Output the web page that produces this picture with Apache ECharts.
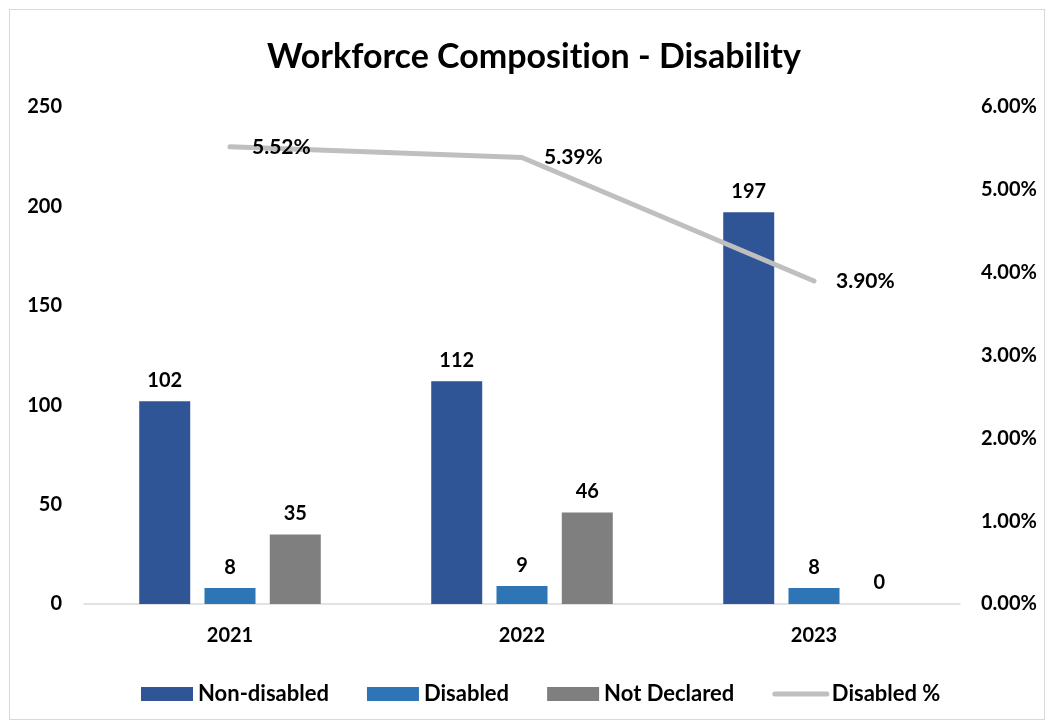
<!DOCTYPE html>
<html>
<head>
<meta charset="utf-8">
<script src="https://cdn.jsdelivr.net/npm/echarts@6/dist/echarts.min.js"></script>
<style>
  html, body { margin: 0; padding: 0; background: #fff; }
  #frame { position: absolute; left: 9px; top: 9px; width: 1036px; height: 711px; border: 1px solid #D9D9D9; box-sizing: border-box; }
  #chart { position: absolute; left: 0; top: 0; width: 1046px; height: 724px; }
</style>
</head>
<body>
<div id="frame"></div>
<div id="chart"></div>
<script>
// Headcount by year and disability status
const years = ['2021', '2022', '2023'];
const nonDisabled = [102, 112, 197];
const disabled = [8, 9, 8];
const notDeclared = [35, 46, 0];
const disabledPct = [5.52, 5.39, 3.90];

const FONT = 'Lato, "Open Sans", sans-serif';
// zero-width non-joiner keeps "ti" from collapsing into a ligature
const TITLE = 'Workforce Composit\u200Cion - Disability';
const labelStyle = { show: true, position: 'top', distance: 11, color: '#000', fontFamily: FONT, fontWeight: 'bold', fontSize: 20 };

const chart = echarts.init(document.getElementById('chart'), null, { renderer: 'canvas' });
chart.setOption({
  animation: false,
  backgroundColor: 'transparent',
  title: {
    text: TITLE,
    left: 529, top: 35, textAlign: 'center',
    textStyle: { fontFamily: FONT, fontWeight: 'bold', fontSize: 34, color: '#000' }
  },
  legend: {
    left: 136, top: 678, itemWidth: 52, itemHeight: 14, itemGap: 38,
    textStyle: { fontFamily: FONT, fontWeight: 'bold', fontSize: 22, color: '#000' },
    data: [
      { name: 'Non-disabled', icon: 'rect' },
      { name: 'Disabled', icon: 'rect' },
      { name: 'Not Declared', icon: 'rect' },
      { name: 'Disabled %', lineStyle: { width: 5, cap: 'round', color: '#BFBFBF' } }
    ]
  },
  grid: { left: 84, right: 86, top: 107, bottom: 120, containLabel: false },
  xAxis: {
    type: 'category', data: years,
    axisLine: { lineStyle: { color: '#D9D9D9', width: 1.5 } },
    axisTick: { show: false },
    axisLabel: { margin: 22, color: '#000', fontFamily: FONT, fontWeight: 'bold', fontSize: 20 }
  },
  yAxis: [
    {
      type: 'value', min: 0, max: 250, interval: 50,
      splitLine: { show: false }, axisLine: { show: false }, axisTick: { show: false },
      axisLabel: { margin: 22, color: '#000', fontFamily: FONT, fontWeight: 'bold', fontSize: 20 }
    },
    {
      type: 'value', min: 0, max: 6, interval: 1, position: 'right',
      splitLine: { show: false }, axisLine: { show: false }, axisTick: { show: false },
      axisLabel: { margin: 21, color: '#000', fontFamily: FONT, fontWeight: 'bold', fontSize: 20,
        formatter: v => v.toFixed(2) + '%' }
    }
  ],
  series: [
    { name: 'Non-disabled', type: 'bar', data: nonDisabled, barWidth: 51, barGap: '28%',
      itemStyle: { color: '#2F5597' }, label: labelStyle },
    { name: 'Disabled', type: 'bar', data: disabled, barWidth: 51, barGap: '28%',
      itemStyle: { color: '#2E75B6' }, label: labelStyle },
    { name: 'Not Declared', type: 'bar', data: notDeclared, barWidth: 51, barGap: '28%',
      itemStyle: { color: '#7F7F7F' }, label: labelStyle },
    { name: 'Disabled %', type: 'line', yAxisIndex: 1, data: disabledPct,
      symbol: 'circle', symbolSize: 2, showSymbol: true, z: 5,
      lineStyle: { color: '#BFBFBF', width: 5, cap: 'round', join: 'round' },
      itemStyle: { color: 'rgba(191,191,191,0)', borderWidth: 0 },
      label: { show: true, position: 'right', distance: 21, color: '#000', fontFamily: FONT, fontWeight: 'bold', fontSize: 21,
        formatter: p => p.value.toFixed(2) + '%' } }
  ]
});
</script>
</body>
</html>
